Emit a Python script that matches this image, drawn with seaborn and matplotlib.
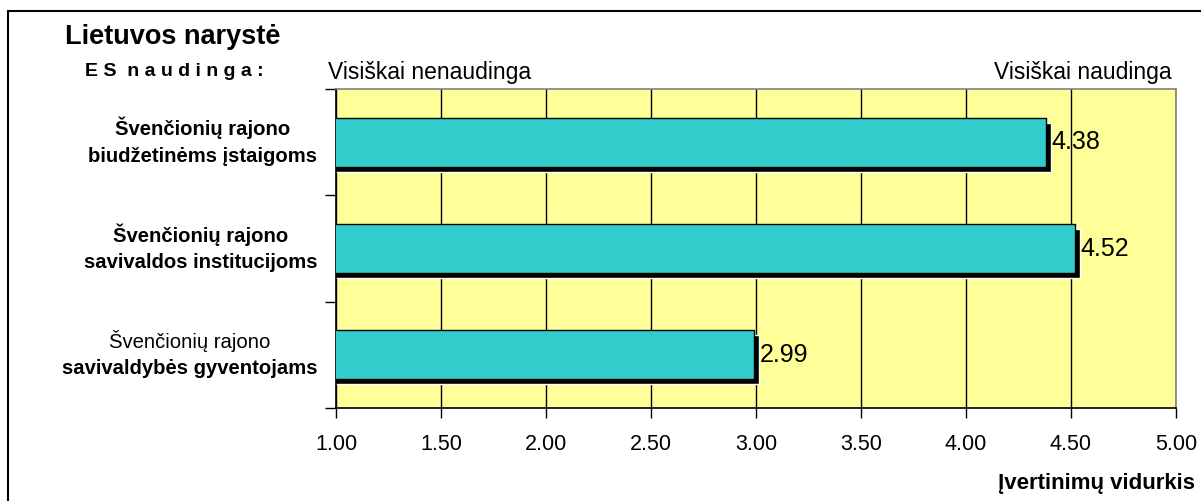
import matplotlib

matplotlib.use("Agg")
import matplotlib.pyplot as plt
import matplotlib.transforms as mtransforms
import seaborn as sns
from matplotlib.patches import Rectangle

# data
line1 = ["Švenčionių rajono", "Švenčionių rajono", "Švenčionių rajono"]
line2 = ["biudžetinėms įstaigoms", "savivaldos institucijoms", "savivaldybės gyventojams"]
line1_bold = [True, True, False]
values = [4.38, 4.52, 2.99]
x_ticks = [1.0, 1.5, 2.0, 2.5, 3.0, 3.5, 4.0, 4.5, 5.0]
categories = [f"{a}\n{b}" for a, b in zip(line1, line2)]

sns.set_style("white")
plt.rcParams["font.family"] = ["Liberation Sans", "DejaVu Sans"]
plt.rcParams["text.color"] = "black"
plt.rcParams["xtick.color"] = "black"
plt.rcParams["ytick.color"] = "black"

fig = plt.figure(figsize=(12.01, 5.01), dpi=100)
ax = fig.add_axes([336 / 1201, 1 - 408 / 501, 840 / 1201, 319 / 501])
ax.set_facecolor("#FFFF99")

sns.barplot(
    x=values, y=categories, orient="h", color="#33CCCC", saturation=1,
    width=0.46, edgecolor="black", linewidth=1, ax=ax, zorder=3,
)

# drop shadow: same bars shifted a few pixels right/down
shadow = mtransforms.offset_copy(ax.transData, fig=fig, x=5, y=-5, units="dots")
ax.barh(range(len(values)), values, height=0.46, color="black",
        transform=shadow, zorder=2)

ax.bar_label(ax.containers[0], fmt="%.2f", padding=4, fontsize=18, color="black")

ax.set_xlim(1, 5)
ax.set_ylim(len(values) - 0.5, -0.5)
ax.set_xticks(x_ticks)
ax.set_xticklabels([f"{t:.2f}" for t in x_ticks], fontsize=15.5)
ax.tick_params(axis="x", bottom=True, direction="out", length=7, width=1,
               color="black", pad=12)
ax.set_yticks([i - 0.5 for i in range(len(values) + 1)])
ax.set_yticklabels([])
ax.tick_params(axis="y", left=True, direction="out", length=8, width=1, color="black")
ax.grid(axis="x", color="black", linewidth=1, zorder=1)
ax.set_axisbelow(True)
ax.set_xlabel("")
ax.set_ylabel("")

for side in ["left", "bottom"]:
    ax.spines[side].set_color("black")
    ax.spines[side].set_linewidth(1.2)
for side in ["top", "right"]:
    ax.spines[side].set_color("#808080")
    ax.spines[side].set_linewidth(1.2)

# category labels: two centred lines (mixed weight), block right edge at x=317px
renderer = fig.canvas.get_renderer()
lab_tf = mtransforms.blended_transform_factory(fig.transFigure, ax.transData)
up = mtransforms.offset_copy(lab_tf, fig=fig, x=0, y=14, units="dots")
down = mtransforms.offset_copy(lab_tf, fig=fig, x=0, y=-14, units="dots")
for i in range(len(values)):
    t1 = ax.text(0, i, line1[i], transform=up, ha="center", va="center",
                 fontsize=14.6, fontweight="bold" if line1_bold[i] else "normal")
    t2 = ax.text(0, i, line2[i], transform=down, ha="center", va="center",
                 fontsize=14.6, fontweight="bold")
    w = max(t.get_window_extent(renderer).width for t in (t1, t2))
    cx = (317 - w / 2) / 1201
    t1.set_x(cx)
    t2.set_x(cx)

fig.text(65 / 1201, 1 - 37 / 501, "Lietuvos narystė", fontsize=19.5,
         fontweight="bold", va="center", ha="left")
fig.text(85 / 1201, 1 - 72 / 501, "E S  n a u d i n g a :", fontsize=14,
         fontweight="bold", va="center", ha="left")
fig.text(328 / 1201, 1 - 72 / 501, "Visiškai nenaudinga", fontsize=16.5,
         va="center", ha="left")
fig.text(1172 / 1201, 1 - 72 / 501, "Visiškai naudinga", fontsize=16.5,
         va="center", ha="right")
fig.text(1195 / 1201, 1 - 483 / 501, "Įvertinimų vidurkis", fontsize=16,
         fontweight="bold", va="center", ha="right")

fig.add_artist(Rectangle((8 / 1201, -0.1), 1.0, 1.1 - 11 / 501,
                         transform=fig.transFigure, fill=False,
                         edgecolor="black", linewidth=1.5))

fig.savefig("out.png", dpi=100)
